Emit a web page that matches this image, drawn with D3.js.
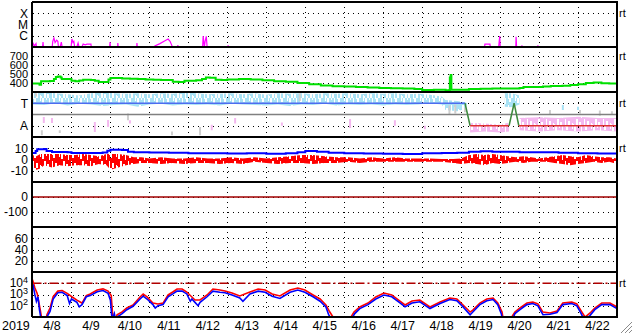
<!DOCTYPE html>
<html>
<head>
<meta charset="utf-8">
<script src="https://cdn.jsdelivr.net/npm/d3@7"></script>
<style>
  body { margin: 0; background: #fff; }
  svg { display: block; font-family: "Liberation Sans", Arial, sans-serif; }
</style>
</head>
<body>
<svg id="chart" width="633" height="334"></svg>
<script>
// day offsets are counted from 2019-04-08 00:00
const dayLabels = ["4/8", "4/9", "4/10", "4/11", "4/12", "4/13", "4/14", "4/15", "4/16", "4/17", "4/18", "4/19", "4/20", "4/21", "4/22"];
const yearLabel = "2019";

// x-ray flux, log10 W/m2
const xrayFlux = [[0, -7.4], [0.01, -6.64], [0.05, -6.9], [0.09, -6.7], [0.12, -7.4], [0.25, -7.4], [0.27, -6.56], [0.29, -7.4],
  [0.5, -7.2], [0.52, -6.5], [0.55, -6.2], [0.58, -6.6], [0.62, -6.4], [0.65, -6.5], [0.68, -7.4], [0.74, -6.56], [0.78, -7.4],
  [0.98, -7.4], [1.01, -6.29], [1.04, -6.6], [1.06, -6.5], [1.1, -7.4], [1.17, -6.64], [1.22, -7.4], [1.3, -6.73], [1.35, -6.8],
  [1.4, -6.75], [1.5, -6.75], [1.52, -7.4], [1.97, -7.4], [1.99, -6.56], [2.01, -7.4], [2.18, -7.4], [2.19, -6.64], [2.21, -7.4],
  [2.67, -7.4], [2.68, -6.64], [2.7, -7.4], [3.12, -7.4], [3.14, -6.9], [3.27, -6.7], [3.4, -6.45], [3.48, -6.29], [3.53, -6.5],
  [3.58, -6.9], [3.6, -7.4], [3.72, -7.4], [3.73, -6.82], [3.75, -7.4], [4.36, -7.4], [4.38, -6.02], [4.41, -7.0], [4.43, -6.5],
  [4.46, -6.05], [4.49, -7.4], [5.0, -7.4], [5.02, -6.85], [5.05, -7.4], [10.85, -7.4], [10.87, -6.92], [10.9, -7.4],
  [11.59, -7.4], [11.61, -6.75], [11.74, -6.75], [11.76, -7.4], [11.95, -7.4], [11.97, -6.75], [11.99, -6.02], [12.01, -7.4],
  [12.4, -7.4], [12.41, -6.1], [12.43, -7.4], [12.55, -7.4], [12.56, -6.85], [12.58, -7.4], [12.96, -7.4], [12.97, -6.85],
  [12.99, -7.4], [14.11, -7.4], [14.12, -6.92], [14.14, -7.4], [15, -7.4]];

// solar wind speed, km/s
const windSpeed = [[0, 394], [0.1, 395], [0.18, 381], [0.22, 420], [0.45, 422], [0.55, 445], [0.6, 468], [0.65, 472], [0.72, 460],
  [0.75, 444], [0.9, 444], [1.0, 425], [1.1, 420], [1.2, 428], [1.3, 435], [1.5, 433], [1.6, 425], [1.7, 411], [1.9, 411],
  [1.95, 440], [2.0, 456], [2.15, 455], [2.3, 450], [2.5, 447], [2.7, 444], [2.9, 440], [3.1, 437], [3.3, 433], [3.5, 433],
  [3.6, 415], [3.75, 410], [3.9, 425], [4.2, 430], [4.35, 445], [4.45, 461], [4.55, 458], [4.7, 435], [4.85, 433],
  [5.0, 440], [5.3, 445], [5.6, 438], [5.9, 430], [6.2, 420], [6.5, 415], [6.8, 400], [7.1, 385], [7.4, 372], [7.7, 365],
  [8.0, 360], [8.3, 355], [8.6, 350], [8.9, 345], [9.2, 342], [9.5, 340], [9.8, 333], [10.0, 322], [10.3, 325], [10.6, 320],
  [10.7, 322], [10.71, 460], [10.72, 330], [10.73, 489], [10.75, 325], [11.0, 325], [11.2, 333], [11.5, 335], [11.8, 339],
  [12.0, 338], [12.3, 340], [12.5, 345], [12.6, 356], [12.9, 355], [13.1, 360], [13.3, 367], [13.6, 370], [13.8, 378],
  [14.0, 385], [14.2, 400], [14.4, 405], [14.6, 398], [14.8, 395], [15.0, 380]];

// IMF sector: 1 = toward, -1 = away
const sectorState = [[0, 1], [11.1, 1], [11.23, -1], [12.23, -1], [12.36, 1], [12.48, -1], [15, -1]];
// toward / away point clouds as [day, high, low]
const towardCloud = [[0, 1.9, 0.9], [0.3, 1.95, 0.85], [0.6, 1.9, 1.0], [0.9, 1.8, 0.8], [1.2, 1.7, 0.95], [1.5, 1.9, 0.9],
  [1.8, 1.95, 0.75], [2.1, 1.9, 0.85], [2.4, 1.85, 0.9], [2.7, 1.9, 0.7], [3.0, 1.8, 0.9], [3.3, 1.9, 0.95], [3.6, 1.85, 0.8],
  [3.9, 1.95, 0.9], [4.2, 1.9, 0.85], [4.5, 1.8, 0.9], [4.8, 1.85, 0.8], [5.1, 1.9, 0.95], [5.4, 1.8, 0.9], [5.7, 1.9, 0.85],
  [6.0, 1.75, 0.8], [6.3, 1.9, 0.9], [6.6, 1.85, 0.75], [6.9, 1.9, 0.9], [7.2, 1.8, 0.85], [7.5, 1.9, 0.95], [7.8, 1.85, 0.8],
  [8.1, 1.9, 0.9], [8.4, 1.8, 0.85], [8.7, 1.9, 0.9], [9.0, 1.85, 0.8], [9.3, 1.9, 0.9], [9.6, 1.8, 0.85], [9.9, 1.85, 0.9],
  [10.2, 1.75, 1.0], [10.5, 1.6, 0.9], [10.6, 1.3, 0.4], [10.9, 1.2, 0.3], [11.1, 1.1, 0.5], [11.15, 1.0, 0.9], [11.16, null, null],
  [12.12, 1.9, 0.7], [12.3, 1.9, 0.65], [12.5, 1.7, 0.9]];
const awayCloud = [[11.23, -0.75, -1.6], [11.6, -0.8, -1.5], [12.0, -0.9, -1.6], [12.23, -0.7, -1.5], [12.24, null, null],
  [12.5, -0.3, -1.4], [13.0, -0.25, -1.5], [13.5, -0.3, -1.4], [14.0, -0.2, -1.5], [14.5, -0.3, -1.4], [15, -0.3, -1.5]];
// isolated streaks: [day, low, high]
const pinkStreaks = [[0.29, -0.75, -0.22], [0.5, -0.75, -0.3], [1.6, -1.56, -0.67], [1.94, -1.11, -0.49], [2.5, -0.8, -0.5],
  [4.6, -1.4, -0.9], [5.2, -0.8, -0.3], [6.4, -1.0, -0.7], [8.15, -1.2, -0.4], [9.3, -1.0, -0.5], [10.07, -1.3, -1.0]];
const grayStreaks = [[0.09, 1.6, 1.9], [0.24, -1.85, -1.4], [0.7, -1.65, -1.4], [2.45, -0.5, 0.1], [3.58, -1.85, -1.5],
  [4.3, -1.85, -1.1], [6.86, 1.2, 1.9], [10.7, 0.0, 0.8], [10.85, 0.1, 0.9], [11.1, 0.2, 0.6], [13.28, 0.0, 0.4],
  [14.05, 0.1, 0.4], [14.56, -0.1, 0.35], [14.87, -0.05, 0.3]];
const blueStreaks = [[13.61, 0.4, 0.85], [14.0, 0.4, 0.7]];

// IMF Bt and Bz, nT
const btTotal = [[0, 5.8], [0.08, 7.5], [0.12, 9.2], [0.3, 9.4], [0.36, 7.5], [0.5, 6.7], [0.9, 6.5], [1.0, 5.8], [1.5, 5.8],
  [1.8, 6.3], [1.92, 7.8], [2.0, 8.6], [2.3, 8.4], [2.45, 7.0], [2.6, 6.5], [3.0, 6.2], [3.5, 6.0], [4.0, 5.6], [4.5, 5.5],
  [5.0, 5.3], [5.5, 5.5], [6.0, 5.2], [6.5, 5.6], [6.8, 6.5], [7.0, 7.5], [7.3, 7.0], [7.6, 6.0], [8.0, 5.5], [8.5, 5.4],
  [9.0, 5.2], [9.5, 5.0], [10.0, 5.5], [10.5, 5.8], [10.9, 6.0], [11.2, 6.8], [11.5, 7.3], [11.8, 7.0], [12.1, 6.8],
  [12.5, 6.4], [13.0, 6.5], [13.5, 6.0], [14.0, 5.5], [14.5, 5.3], [15, 5.3]];
const bzRange = [[0, 4, -6], [0.1, 3, -9], [0.2, 5, -8], [0.3, 5, -5], [0.5, 5, -7], [0.7, 5, -5], [0.9, 4, -6], [1.1, 4, -5],
  [1.3, 5, -5], [1.5, 4, -6], [1.7, 3, -4], [1.9, 5, -5], [2.0, 5, -9], [2.2, 5, -7], [2.4, 4, -5], [2.6, 2, -4], [2.8, 2, -3],
  [3.0, 1, -3], [3.3, 2, -4], [3.6, 1, -3], [3.9, 1, -4], [4.2, 2, -3], [4.5, 1, -3], [4.8, 1, -4], [5.1, 2, -3], [5.4, 1, -4],
  [5.7, 2, -2], [6.0, 1, -3], [6.3, 2, -4], [6.6, 3, -3], [6.9, 4, -3], [7.2, 4, -4], [7.5, 3, -3], [7.8, 2, -3], [8.1, 2, -2],
  [8.4, 1, -3], [8.7, 2, -2], [9.0, 1, -2], [9.3, 2, -2], [9.6, 1, -2], [9.9, 1, -2], [10.2, 1, -2], [10.5, 0.5, -2],
  [10.8, 0.5, -3], [11.0, 1, -4], [11.2, 4, -3], [11.4, 5, -4], [11.6, 4, -5], [11.8, 5, -3], [12.0, 4, -4], [12.2, 3, -3],
  [12.4, 2, -2], [12.6, 3, -3], [12.8, 2, -2], [13.0, 1, -2], [13.2, 2, -2], [13.4, 3, -3], [13.6, 4, -4], [13.8, 3, -5],
  [14.0, 2, -4], [14.2, 4, -3], [14.4, 3, -2], [14.6, 2, -3], [14.8, 2, -2], [15, 1, -4]];

// electron flux, log10
const electronHigh = [[0.0, 4.3], [0.01, 4.2], [0.06, 3.6], [0.12, 3.1], [0.19, 1.8], [0.24, 0.8], [0.35, 0.8], [0.37, 1.2],
  [0.45, 1.8], [0.53, 2.8], [0.65, 3.3], [0.76, 3.35], [0.89, 3.1], [1.01, 2.8], [1.14, 2.5], [1.27, 2.24], [1.38, 2.9],
  [1.48, 3.05], [1.66, 3.4], [1.81, 3.5], [1.94, 3.3], [2.02, 2.9], [2.05, 1.5], [2.07, 0.8], [2.14, 0.8], [2.17, 1.2],
  [2.30, 1.45], [2.42, 1.8], [2.58, 2.07], [2.76, 2.78], [2.84, 3.04], [2.94, 2.78], [3.09, 2.24], [3.22, 2.16], [3.35, 2.24],
  [3.48, 2.96], [3.60, 3.22], [3.71, 3.49], [3.84, 3.49], [3.96, 3.22], [4.09, 2.78], [4.17, 2.51], [4.30, 2.51], [4.48, 2.96],
  [4.63, 3.49], [4.81, 3.4], [4.94, 3.31], [5.12, 3.13], [5.32, 2.87], [5.58, 3.22], [5.79, 3.49], [5.97, 3.4], [6.15, 3.04],
  [6.35, 2.87], [6.61, 3.4], [6.81, 3.58], [6.99, 3.4], [7.2, 2.96], [7.38, 2.6], [7.53, 2.07], [7.63, 1.44], [7.71, 1.0],
  [7.89, 0.8], [8.14, 0.8], [8.25, 1.44], [8.40, 1.89], [8.61, 2.24], [8.81, 2.78], [9.02, 3.13], [9.22, 2.96], [9.43, 2.42],
  [9.56, 2.07], [9.74, 2.42], [9.94, 2.51], [10.2, 1.89], [10.46, 2.33], [10.71, 2.69], [10.89, 2.6], [11.05, 2.07],
  [11.23, 1.44], [11.3, 1.62], [11.48, 2.24], [11.66, 2.6], [11.82, 2.69], [11.94, 2.24], [12.05, 1.44], [12.07, 1.0],
  [12.2, 0.8], [12.3, 1.0], [12.38, 1.44], [12.51, 1.8], [12.69, 2.24], [12.84, 2.33], [12.97, 2.16], [13.1, 1.44],
  [13.28, 1.36], [13.46, 1.53], [13.61, 2.24], [13.84, 2.33], [13.97, 2.16], [14.1, 1.44], [14.18, 1.0], [14.31, 1.36],
  [14.43, 1.8], [14.61, 2.24], [14.82, 2.24], [15.0, 1.89]];
const electronLow = [[0.01, 3.9], [0.06, 3.0], [0.1, 2.4], [0.14, 2.8], [0.18, 1.6], [0.22, 0.8], [0.37, 1.0], [0.45, 1.5],
  [0.53, 2.6], [0.65, 3.15], [0.76, 3.2], [0.89, 2.9], [0.95, 2.2], [1.0, 2.6], [1.14, 2.3], [1.2, 1.9], [1.27, 2.1],
  [1.38, 2.8], [1.48, 2.9], [1.66, 3.25], [1.81, 3.35], [1.94, 3.1], [2.0, 2.5], [2.03, 1.2], [2.05, 0.8], [2.1, 1.3],
  [2.13, 0.8], [2.17, 1.0], [2.30, 1.3], [2.42, 1.65], [2.58, 1.95], [2.76, 2.6], [2.84, 2.85], [2.94, 2.6], [3.09, 2.1],
  [3.15, 1.8], [3.22, 2.0], [3.35, 2.1], [3.48, 2.8], [3.60, 3.05], [3.71, 3.3], [3.84, 3.3], [3.96, 3.05], [4.05, 2.4],
  [4.09, 2.6], [4.17, 2.3], [4.25, 2.0], [4.30, 2.3], [4.48, 2.8], [4.63, 3.3], [4.81, 3.2], [4.94, 3.15], [5.12, 2.95],
  [5.32, 2.7], [5.4, 2.4], [5.58, 3.05], [5.79, 3.3], [5.97, 3.2], [6.15, 2.85], [6.35, 2.65], [6.61, 3.2], [6.81, 3.4],
  [6.99, 3.2], [7.2, 2.8], [7.38, 2.4], [7.53, 1.9], [7.6, 1.2], [7.68, 0.8], [8.18, 0.8], [8.27, 1.3], [8.40, 1.75],
  [8.61, 2.1], [8.81, 2.6], [9.02, 2.95], [9.22, 2.8], [9.43, 2.25], [9.56, 1.9], [9.74, 2.25], [9.94, 2.35], [10.2, 1.75],
  [10.46, 2.2], [10.71, 2.55], [10.89, 2.45], [11.05, 1.9], [11.23, 1.2], [11.3, 1.45], [11.48, 2.1], [11.66, 2.45],
  [11.82, 2.55], [11.94, 2.1], [12.03, 1.3], [12.06, 0.8], [12.32, 0.8], [12.38, 1.3], [12.51, 1.65], [12.69, 2.1],
  [12.84, 2.2], [12.97, 2.0], [13.05, 1.5], [13.1, 1.2], [13.28, 1.25], [13.46, 1.4], [13.61, 2.1], [13.84, 2.2],
  [13.97, 2.0], [14.08, 1.3], [14.15, 0.8], [14.3, 1.1], [14.43, 1.65], [14.61, 2.1], [14.82, 2.1], [15.0, 1.75]];

// ---- layout ----
const svg = d3.select("#chart");
const left = 32.5, right = 617;
const top0 = 2, panelH = 45;
const x = d3.scaleLinear().domain([0, 15]).range([left, right]);

const panels = [
  { domain: [-7, -3], ticks: [-6, -5, -4], labels: ["C", "M", "X"], rt: -4, fs: 12 },
  { domain: [300, 800], ticks: [400, 500, 600, 700], labels: ["400", "500", "600", "700"], rt: 700, fs: 11 },
  { domain: [-2, 2], ticks: [1, -1], labels: ["T", "A"], rt: 1, fs: 12 },
  { domain: [-20, 20], ticks: [10, 0, -10], labels: ["10", "0", "-10"], rt: 10, fs: 12 },
  { domain: [-200, 100], ticks: [0, -100], labels: ["0", "-100"], fs: 12 },
  { domain: [0, 80], ticks: [20, 40, 60], labels: ["20", "40", "60"], fs: 12 },
  { domain: [1, 5], ticks: [2, 3, 4], labels: ["2", "3", "4"], sup: true, rt: 4, fs: 11 }
];
const defs = svg.append("defs");
panels.forEach((p, i) => {
  p.top = top0 + i * panelH;
  p.y = d3.scaleLinear().domain(p.domain).range([p.top + panelH, p.top]);
  defs.append("clipPath").attr("id", "clip" + i)
    .append("rect").attr("x", left).attr("y", p.top).attr("width", right - left).attr("height", panelH);
});
const bottom = top0 + panels.length * panelH;

// streaky fills for the dense point clouds
function streakPattern(id, color) {
  const pat = defs.append("pattern").attr("id", id).attr("patternUnits", "userSpaceOnUse")
    .attr("width", 19).attr("height", 14);
  [[0, 0, 2, 14], [2, 3, 1, 8], [3, 0, 1, 12], [4, 5, 2, 9], [6, 0, 2, 7], [8, 2, 1, 12], [9, 0, 2, 10],
    [11, 6, 1, 8], [12, 0, 2, 14], [14, 1, 1, 6], [15, 4, 2, 10], [17, 0, 2, 9]].forEach(r =>
    pat.append("rect").attr("x", r[0]).attr("y", r[1]).attr("width", r[2]).attr("height", r[3]).attr("fill", color));
}
streakPattern("towardFill", "#a8e2f5");
streakPattern("awayFill", "#f4b8ef");
streakPattern("bzFill", "#ff0000");

// grid
const grid = svg.append("g").attr("stroke", "#000").attr("stroke-width", 1)
  .attr("stroke-dasharray", "1,4").attr("shape-rendering", "crispEdges");
grid.selectAll(".vg").data(d3.range(1, 15)).join("line")
  .attr("x1", d => Math.round(x(d)) + 0.5).attr("x2", d => Math.round(x(d)) + 0.5)
  .attr("y1", top0).attr("y2", bottom);
panels.forEach(p => {
  grid.selectAll(null).data(p.ticks).join("line")
    .attr("x1", left).attr("x2", right)
    .attr("y1", d => Math.round(p.y(d)) + 0.5).attr("y2", d => Math.round(p.y(d)) + 0.5);
});

// y labels
panels.forEach(p => {
  p.ticks.forEach((t, k) => {
    const txt = svg.append("text").attr("x", 28).attr("y", p.y(t)).attr("dy", "0.36em")
      .attr("text-anchor", "end").attr("font-size", p.fs);
    if (p.sup) {
      txt.append("tspan").attr("font-size", 12).text("10");
      txt.append("tspan").attr("dy", "-0.5em").attr("font-size", 9).text(p.labels[k]);
    } else {
      txt.text(p.labels[k]);
    }
  });
  if (p.rt !== undefined) {
    svg.append("text").attr("x", 619).attr("y", p.y(p.rt)).attr("dy", "0.35em")
      .attr("font-size", 11).text("rt");
  }
});

// x labels
svg.selectAll(".xl").data(dayLabels).join("text")
  .attr("x", (d, i) => x(i + 0.5)).attr("y", 330).attr("text-anchor", "middle")
  .attr("font-size", 12.5).text(d => d);
svg.append("text").attr("x", 2).attr("y", 330).attr("font-size", 12.5).text(yearLabel);

// ---- panel 1: x-ray ----
const p1 = panels[0];
svg.append("path").datum(xrayFlux).attr("clip-path", "url(#clip0)")
  .attr("fill", "none").attr("stroke", "#ff00ff").attr("stroke-width", 1.2)
  .attr("d", d3.line().x(d => x(d[0])).y(d => p1.y(d[1])));

// ---- panel 2: speed ----
const p2 = panels[1];
svg.append("path").datum(windSpeed).attr("clip-path", "url(#clip1)")
  .attr("fill", "none").attr("stroke", "#00e000").attr("stroke-width", 2)
  .attr("d", d3.line().curve(d3.curveStepAfter).x(d => x(d[0])).y(d => p2.y(d[1])));

// ---- panel 3: sector ----
const p3 = panels[2];
const cloudArea = d3.area().defined(d => d[1] !== null)
  .x(d => x(d[0])).y0(d => p3.y(d[2])).y1(d => p3.y(d[1]));
svg.append("path").datum(towardCloud).attr("clip-path", "url(#clip2)")
  .attr("fill", "url(#towardFill)").attr("d", cloudArea);
svg.append("path").datum(awayCloud).attr("clip-path", "url(#clip2)")
  .attr("fill", "url(#awayFill)").attr("d", cloudArea);
const streak = (arr, color) => svg.append("g").attr("clip-path", "url(#clip2)")
  .selectAll("line").data(arr).join("line")
  .attr("x1", d => x(d[0])).attr("x2", d => x(d[0]))
  .attr("y1", d => p3.y(d[1])).attr("y2", d => p3.y(d[2]))
  .attr("stroke", color).attr("stroke-width", 2);
streak(grayStreaks, "#cfcfcf");
streak(pinkStreaks, "#f4b8ef");
streak(blueStreaks, "#a8e2f5");
svg.append("line").attr("x1", left).attr("x2", right)
  .attr("y1", p3.y(0)).attr("y2", p3.y(0)).attr("stroke", "#808080").attr("stroke-width", 1.5);
svg.append("g").selectAll("line").data(d3.pairs(sectorState)).join("line")
  .attr("x1", d => x(d[0][0])).attr("x2", d => x(d[1][0]))
  .attr("y1", d => p3.y(d[0][1])).attr("y2", d => p3.y(d[1][1]))
  .attr("stroke-width", 1.5)
  .attr("stroke", d => d[0][1] !== d[1][1] ? "#3c8a3c" : (d[0][1] > 0 ? "#4d6cf0" : "#e03030"));

// ---- panel 4: IMF ----
const p4 = panels[3];
svg.append("path").datum(bzRange).attr("clip-path", "url(#clip3)")
  .attr("fill", "url(#bzFill)")
  .attr("d", d3.area().x(d => x(d[0])).y0(d => p4.y(d[2])).y1(d => p4.y(d[1])));
svg.append("path").datum(btTotal).attr("clip-path", "url(#clip3)")
  .attr("fill", "none").attr("stroke", "#0000ff").attr("stroke-width", 2)
  .attr("d", d3.line().curve(d3.curveStepAfter).x(d => x(d[0])).y(d => p4.y(d[1])));

// ---- panel 5: zero reference ----
const p5 = panels[4];
svg.append("line").attr("x1", left).attr("x2", right)
  .attr("y1", p5.y(0)).attr("y2", p5.y(0)).attr("stroke", "#a00000").attr("stroke-width", 1.5);

// ---- panel 7: electrons ----
const p7 = panels[6];
svg.append("line").attr("x1", left).attr("x2", right)
  .attr("y1", p7.y(4)).attr("y2", p7.y(4)).attr("stroke", "#b00000").attr("stroke-width", 1.5)
  .attr("stroke-dasharray", "9,3,2,3");
const eLine = d3.line().x(d => x(d[0])).y(d => p7.y(d[1]));
svg.append("path").datum(electronHigh).attr("clip-path", "url(#clip6)")
  .attr("fill", "none").attr("stroke", "#ff0000").attr("stroke-width", 1.6).attr("d", eLine);
svg.append("path").datum(electronLow).attr("clip-path", "url(#clip6)")
  .attr("fill", "none").attr("stroke", "#0000ff").attr("stroke-width", 1.6).attr("d", eLine);

// ---- frame ----
const frame = svg.append("g").attr("stroke", "#000").attr("shape-rendering", "crispEdges");
frame.selectAll(".h").data(d3.range(panels.length + 1)).join("line")
  .attr("x1", left - 0.5).attr("x2", right + 1)
  .attr("y1", i => top0 + i * panelH).attr("y2", i => top0 + i * panelH).attr("stroke-width", 2);
frame.append("line").attr("x1", 32).attr("x2", 32).attr("y1", top0).attr("y2", bottom).attr("stroke-width", 1.5);
frame.append("line").attr("x1", 617).attr("x2", 617).attr("y1", top0).attr("y2", bottom).attr("stroke-width", 2);

// resize grip in the corner
svg.append("g").attr("stroke", "#8a8a8a").attr("stroke-width", 1)
  .selectAll("line").data([0, 4, 8]).join("line")
  .attr("x1", d => 621 + d).attr("y1", 333).attr("x2", 632).attr("y2", d => 322 + d);
</script>
</body>
</html>
